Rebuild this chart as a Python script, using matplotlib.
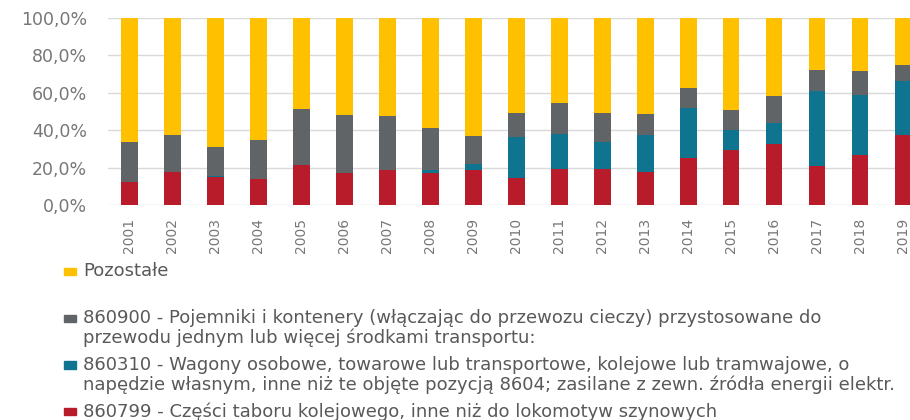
import numpy as np
import matplotlib.pyplot as plt
from matplotlib.patches import Rectangle

years = [str(y) for y in range(2001, 2020)]

# shares in % (segments, bottom to top)
czesci = [12.1, 17.9, 15.2, 13.9, 21.4, 17.1, 18.9, 17.3, 18.9, 14.3,
          19.5, 19.3, 17.5, 25.2, 29.3, 32.5, 20.7, 26.8, 37.5]
wagony = [0.0, 0.0, 0.5, 0.0, 0.0, 0.0, 0.0, 1.6, 3.1, 22.3,
          18.5, 14.4, 20.2, 26.6, 10.7, 11.4, 40.2, 31.9, 28.7]
pojemniki = [21.6, 19.6, 15.5, 20.7, 30.0, 30.9, 28.8, 22.2, 15.1, 12.7,
             16.5, 15.6, 11.2, 10.7, 10.7, 14.5, 11.4, 12.7, 8.8]
pozostale = [100 - a - b - c for a, b, c in zip(czesci, wagony, pojemniki)]

labels = [
    "Pozostałe",
    "860900 - Pojemniki i kontenery (włączając do przewozu cieczy) przystosowane do\n"
    "przewodu jednym lub więcej środkami transportu:",
    "860310 - Wagony osobowe, towarowe lub transportowe, kolejowe lub tramwajowe, o\n"
    "napędzie własnym, inne niż te objęte pozycją 8604; zasilane z zewn. źródła energii elektr.",
    "860799 - Części taboru kolejowego, inne niż do lokomotyw szynowych",
]
colors = ["#FFC000", "#606466", "#0E7490", "#B81C2B"]

W, H = 910, 420
fig = plt.figure(figsize=(W / 100, H / 100), dpi=100)
ax = fig.add_axes([108 / W, 1 - 205 / H, (924.5 - 108) / W, 187 / H])

x = np.arange(len(years))
bw = 0.39
bottom = np.zeros(len(years))
for vals, col in zip([czesci, wagony, pojemniki, pozostale], colors[::-1]):
    ax.bar(x, vals, bw, bottom=bottom, color=col, zorder=3)
    bottom += np.array(vals)

ax.set_xlim(-0.5, len(years) - 0.5)
ax.set_ylim(0, 100)
ax.set_yticks(np.arange(0, 101, 20))
ax.set_yticklabels([f"{v:.1f}%".replace(".", ",") for v in np.arange(0, 101, 20)])
ax.set_xticks(x)
ax.set_xticklabels(years, rotation=90)
ax.grid(axis="y", color="#D9D9D9", linewidth=1.0, zorder=0)
for s in ax.spines.values():
    s.set_visible(False)
ax.tick_params(axis="y", length=0, pad=15, labelsize=12.5, labelcolor="#777777")
ax.tick_params(axis="x", length=0, pad=9, labelsize=10, labelcolor="#777777")

# legend, drawn by hand to keep the Excel-like layout
leg_pos = [271, 328.3, 375, 411.7]
sq_pos = [271.3, 318.3, 365, 411.5]
for lab, col, yc, ys in zip(labels, colors, leg_pos, sq_pos):
    fig.patches.append(Rectangle((64 / W, 1 - (ys + 3.6) / H), 11.5 / W, 7.2 / H,
                                 transform=fig.transFigure, color=col))
    fig.text(83 / W, 1 - yc / H, lab, ha="left", va="center", fontsize=13,
             color="#595959", linespacing=1.08)

fig.savefig("out.png", dpi=100)
